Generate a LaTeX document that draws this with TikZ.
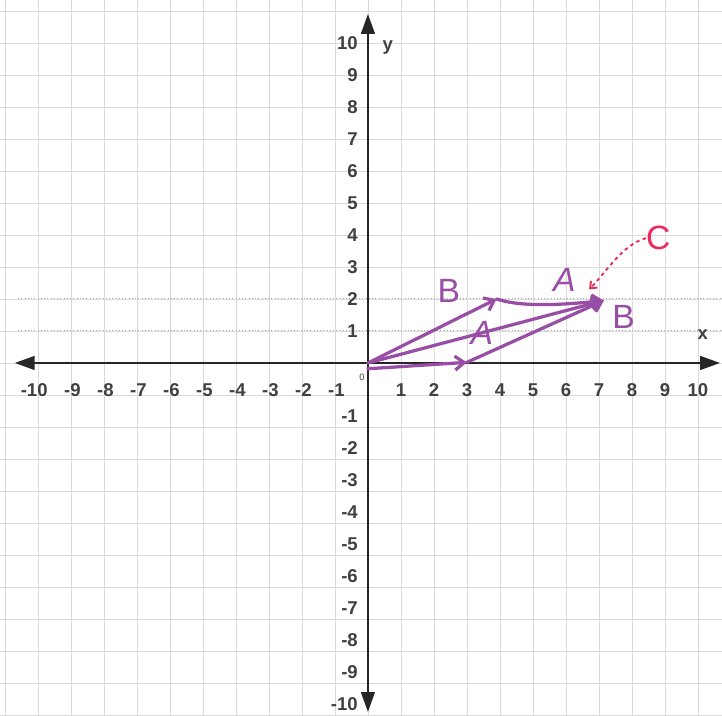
\documentclass[tikz,border=0pt]{standalone}
\usepackage{fontspec}
\setsansfont{Liberation Sans}
\usetikzlibrary{arrows.meta}
\definecolor{vecpurple}{RGB}{152,78,165}
\definecolor{penred}{RGB}{238,40,90}

\begin{document}
\begin{tikzpicture}[x=1cm, y=0.97cm,
    ticklbl/.style={font=\fontsize{16}{16}\selectfont\sffamily\bfseries, text=black!75, inner sep=0pt},
    vec/.style={vecpurple, line width=2.8pt, line cap=round, -{Straight Barb[length=8pt,width=12pt]}},
    hand/.style={font=\fontsize{29}{29}\selectfont\sffamily, text=vecpurple, inner sep=0pt}]

  \useasboundingbox (-11.15,-11.0) rectangle (10.73,11.34);

  % Grid
  \foreach \k in {-11,...,11} {
    \draw[gray!28, thin] (\k,-11.0) -- (\k,11.34);
    \draw[gray!28, thin] (-11.15,\k) -- (10.73,\k);
  }
  \foreach \k in {1,2}
    \draw[gray!70, dotted, thick] (-10.6,\k) -- (10.7,\k);

  % Axes
  \draw[black!85, line width=1.4pt, {Triangle[length=0.6cm,width=0.42cm]}-{Triangle[length=0.6cm,width=0.42cm]}]
    (-10.7,0) -- (10.67,0);
  \draw[black!85, line width=1.4pt, {Triangle[length=0.6cm,width=0.42cm]}-{Triangle[length=0.6cm,width=0.42cm]}]
    (0,-10.9) -- (0,10.9);
  \node[ticklbl] (xlbl) at (10.15,0.9) {x};
  \node[ticklbl] (ylbl) at (0.6,9.85) {y};

  % Tick labels
  \foreach \x in {1,...,10}
    \node[ticklbl] (xp\x) at (\x,-0.85) {\x};
  \foreach \x in {1,...,10}
    \node[ticklbl, anchor=east] (xn\x) at ({-\x+0.3},-0.85) {-\x};
  \foreach \y in {1,...,10}
    \node[ticklbl, anchor=east] (yp\y) at (-0.3,\y) {\y};
  \foreach \y in {1,...,10}
    \node[ticklbl, anchor=east] (yn\y) at (-0.3,{-\y-0.65}) {-\y};
  \node[ticklbl, font=\fontsize{8}{8}\selectfont\sffamily] (orig) at (-0.18,-0.45) {0};

  % Vectors
  \coordinate (O) at (0,0);
  \coordinate (P) at (3,0.02);
  \coordinate (Q) at (3.9,2.0);
  \coordinate (R) at (7.15,1.95);
  \draw[vec] ([yshift=-5pt]O) -- (P);
  \draw[vec] (P) -- (R);
  \draw[vec] (O) -- (Q);
  \draw[vec] (Q) .. controls (4.6,1.75) and (5.8,1.8) .. (R);
  \draw[vec] (O) -- (R);

  \node[hand] (lblB1) at (2.45,2.25) {B};
  \node[hand] (lblA1) at (3.45,0.95) {\itshape A};
  \node[hand] (lblA2) at (5.95,2.6) {\itshape A};
  \node[hand] (lblB2) at (7.75,1.45) {B};

  % Red note
  \node[hand, text=penred] (lblC) at (8.8,3.9) {C};
  \coordinate (Ctip) at (6.7,2.3);
  \draw[penred, line width=1.6pt, dashed, -{Straight Barb[length=5pt,width=8pt]}]
    (lblC.west) .. controls (7.7,3.7) and (7.2,2.8) .. (Ctip);

\end{tikzpicture}
\end{document}
